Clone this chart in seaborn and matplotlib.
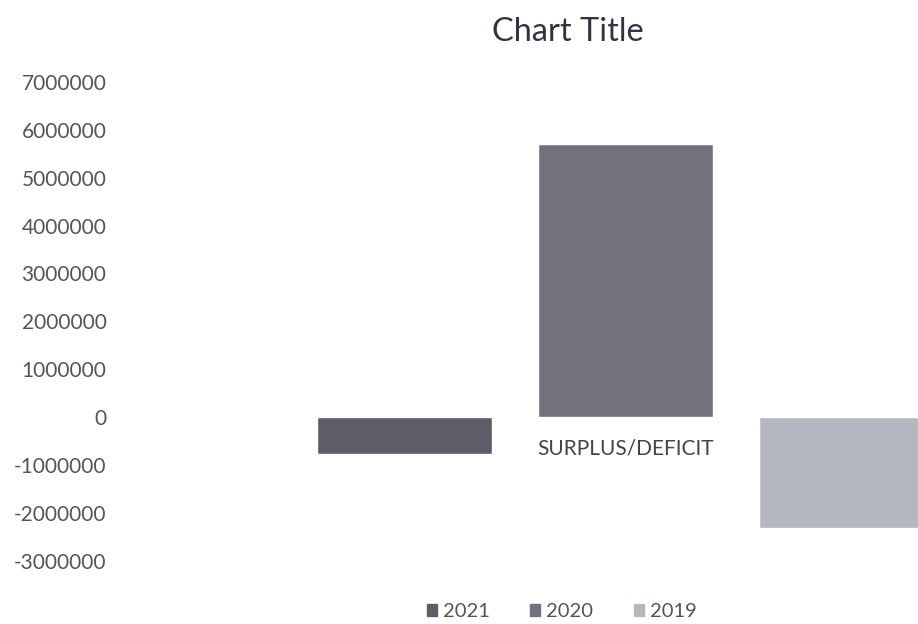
import numpy as np
import matplotlib
matplotlib.use("Agg")
import matplotlib.pyplot as plt
import seaborn as sns
import pandas as pd

sns.set_style("white")
plt.rcParams['font.family'] = ['Lato', 'DejaVu Sans']

categories = ['SURPLUS/DEFICIT']
years = ['2021', '2020', '2019']
values = [-770000, 5710000, -2310000]
colors = ['#5d5d68', '#72727d', '#b5b7c0']

df = pd.DataFrame({'cat': categories * 3, 'year': years, 'value': values})

fig = plt.figure(figsize=(9.18, 6.24), dpi=100)
ax = fig.add_axes([0.125, 0.101, 0.875, 0.768])

sns.barplot(data=df, x='cat', y='value', hue='year', hue_order=years,
            palette=colors, width=0.8, gap=0.21, saturation=1, ax=ax,
            legend=False)

ax.set_ylim(-3000000, 7000000)
ax.set_xlim(-0.616, 0.353)
ax.set_yticks(np.arange(-3000000, 7000001, 1000000))
ax.set_yticklabels([str(v) for v in range(-3000000, 7000001, 1000000)],
                   fontsize=15, color='#555555')
ax.tick_params(axis='y', length=0, pad=6)

# category label sits at the zero line
ax.spines['bottom'].set_position(('data', 0))
for s in ax.spines.values():
    s.set_visible(False)
ax.tick_params(axis='x', length=0, pad=15, labelsize=15, labelcolor='#444444')
ax.set_xlabel('')
ax.set_ylabel('')

fig.text(0.619, 0.949, 'Chart Title', ha='center', va='center',
         fontsize=23.5, color='#333344')

handles = [plt.Rectangle((0, 0), 1, 1, color=c) for c in colors]
fig.legend(handles, years, loc='center', bbox_to_anchor=(0.612, 0.02),
           ncol=3, frameon=False, fontsize=14.5, handlelength=0.5,
           handleheight=0.5, handletextpad=0.3, columnspacing=2.0,
           labelcolor='#555555')

fig.savefig('out.png', dpi=100)
